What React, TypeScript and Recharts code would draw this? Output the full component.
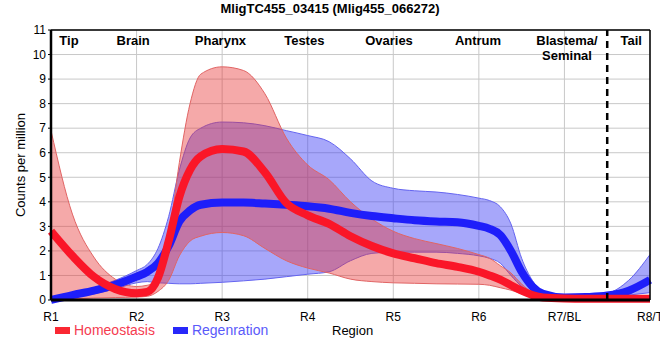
import React from 'react';
import {
  Area,
  CartesianGrid,
  ComposedChart,
  Line,
  ReferenceLine,
  XAxis,
  YAxis,
} from 'recharts';

const xs = [1, 1.25, 1.5, 1.75, 2, 2.125, 2.25, 2.375, 2.5, 2.625, 2.75, 3, 3.25, 3.5, 3.75, 4, 4.25, 4.5, 4.75, 5, 5.25, 5.5, 5.75, 6, 6.125, 6.25, 6.375, 6.5, 6.625, 6.75, 7, 7.25, 7.5, 7.75, 8];

const homeostasis = [2.8, 1.8, 0.95, 0.45, 0.28, 0.33, 0.9, 2.4, 4.2, 5.3, 5.85, 6.15, 6.05, 5.2, 3.95, 3.45, 3.1, 2.6, 2.2, 1.9, 1.7, 1.5, 1.35, 1.15, 1.0, 0.83, 0.6, 0.38, 0.2, 0.1, 0.06, 0.05, 0.05, 0.05, 0.05];
const homeostasisHigh = [6.9, 3.5, 1.75, 0.85, 0.55, 0.6, 0.85, 2.5, 5.6, 8.0, 9.2, 9.5, 9.35, 8.4, 6.6, 5.5, 4.9, 4.0, 3.3, 2.8, 2.5, 2.3, 2.1, 1.85, 1.7, 1.4, 1.1, 0.65, 0.3, 0.15, 0.1, 0.1, 0.1, 0.1, 0.1];
const homeostasisLow = [0, 0.05, 0.08, 0.1, 0.12, 0.15, 0.35, 0.8, 1.8, 2.4, 2.6, 2.75, 2.62, 2.1, 1.6, 1.3, 1.1, 0.85, 0.75, 0.7, 0.68, 0.66, 0.65, 0.64, 0.6, 0.5, 0.4, 0.25, 0.1, 0.02, 0, 0, 0, 0, 0];

const regeneration = [0, 0.2, 0.38, 0.62, 0.95, 1.15, 1.5, 2.2, 3.2, 3.65, 3.88, 3.97, 3.97, 3.93, 3.88, 3.82, 3.72, 3.55, 3.42, 3.33, 3.25, 3.2, 3.17, 3.02, 2.9, 2.65, 2.0, 1.15, 0.55, 0.25, 0.1, 0.12, 0.18, 0.38, 0.82];
const regenerationHigh = [0.05, 0.25, 0.5, 0.8, 1.2, 1.45, 2.1, 3.4, 5.3, 6.6, 7.0, 7.25, 7.22, 7.1, 6.9, 6.7, 6.45, 5.75, 4.85, 4.55, 4.45, 4.4, 4.3, 4.15, 4.05, 3.8, 3.1, 1.7, 0.8, 0.35, 0.15, 0.2, 0.28, 0.8, 1.85];
const regenerationLow = [0, 0.12, 0.25, 0.45, 0.7, 0.75, 0.7, 0.68, 0.66, 0.66, 0.68, 0.72, 0.78, 0.85, 0.95, 1.05, 1.15, 1.6, 1.9, 1.95, 1.95, 1.95, 1.9, 1.8, 1.7, 1.5, 1.0, 0.55, 0.25, 0.1, 0.05, 0.06, 0.1, 0.2, 0.3];

const tickValues = [1, 2, 3, 4, 5, 6, 7, 8];
const tickLabels = ['R1', 'R2', 'R3', 'R4', 'R5', 'R6', 'R7/BL', 'R8/T'];
const yTicks = [0, 1, 2, 3, 4, 5, 6, 7, 8, 9, 10, 11];

const regionNames = ['Tip', 'Brain', 'Pharynx', 'Testes', 'Ovaries', 'Antrum', 'Blastema/\nSeminal', 'Tail'];
const regionPos = [1.21, 1.96, 2.98, 3.96, 4.95, 5.99, 7.03, 7.78];

const data = xs.map((x, i) => ({
  x,
  homeo: homeostasis[i],
  homeoBand: [homeostasisLow[i], homeostasisHigh[i]],
  regen: regeneration[i],
  regenBand: [regenerationLow[i], regenerationHigh[i]],
}));

const font = '"Liberation Sans", Arial, sans-serif';

function regionLabel(name: string) {
  return (props: any) => {
    const vb = props.viewBox || {};
    const x = vb.x ?? 0;
    const top = vb.y ?? 30;
    const lines = name.split('\n');
    return (
      <text x={x} y={top + 15} textAnchor="middle" fontFamily={font} fontSize={13} fontWeight="bold" fill="#000">
        {lines.map((l, i) => (
          <tspan key={i} x={x} dy={i === 0 ? 0 : 15}>
            {l}
          </tspan>
        ))}
      </text>
    );
  };
}

export default function App() {
  return (
    <div style={{ position: 'absolute', left: 0, top: 0, width: 660, height: 360, fontFamily: font, background: '#fff' }}>
      <div style={{ position: 'absolute', top: 1, left: 0, width: 660, textAlign: 'center', fontSize: 13, fontWeight: 'bold' }}>
        MligTC455_03415 (Mlig455_066272)
      </div>
      <ComposedChart width={660} height={360} data={data} margin={{ top: 30, right: 10, bottom: 35, left: 0 }}>
        <CartesianGrid stroke="#c8c8c8" strokeWidth={1} />
        <XAxis
          dataKey="x"
          type="number"
          domain={[1, 8]}
          ticks={tickValues}
          tickFormatter={(v: number) => tickLabels[v - 1]}
          interval={0}
          height={25}
          axisLine={{ stroke: '#000', strokeWidth: 3 }}
          tickLine={false}
          tickMargin={6}
          tick={{ fill: '#000', fontSize: 12, fontFamily: font }}
        />
        <YAxis
          type="number"
          domain={[0, 11]}
          ticks={yTicks}
          interval={0}
          width={51}
          axisLine={{ stroke: '#000', strokeWidth: 2.5 }}
          tickLine={{ stroke: '#000' }}
          tickSize={3}
          tickMargin={2}
          tick={{ fill: '#000', fontSize: 12, fontFamily: font }}
        />
        <Area
          dataKey="regenBand"
          type="monotone"
          fill="rgb(60,60,245)"
          fillOpacity={0.45}
          stroke="rgb(100,100,240)"
          strokeWidth={1}
          isAnimationActive={false}
        />
        <Line
          dataKey="regen"
          type="monotone"
          stroke="rgb(30,30,250)"
          strokeWidth={8}
          dot={false}
          isAnimationActive={false}
        />
        <Area
          dataKey="homeoBand"
          type="monotone"
          fill="rgb(230,50,50)"
          fillOpacity={0.42}
          stroke="rgb(225,100,100)"
          strokeWidth={1}
          isAnimationActive={false}
        />
        <Line
          dataKey="homeo"
          type="monotone"
          stroke="rgb(250,22,40)"
          strokeWidth={8}
          dot={false}
          isAnimationActive={false}
        />
        <ReferenceLine y={11} stroke="#000" strokeWidth={1.5} />
        <ReferenceLine x={8} stroke="#000" strokeWidth={1.5} />
        <ReferenceLine x={7.5} stroke="#000" strokeWidth={2.5} strokeDasharray="7 5" />
        {regionNames.map((name, i) => (
          <ReferenceLine
            key={name}
            x={regionPos[i]}
            stroke="none"
            strokeOpacity={0}
            label={regionLabel(name)}
          />
        ))}
      </ComposedChart>
      <div
        style={{
          position: 'absolute',
          left: 20,
          top: 165,
          fontSize: 13,
          whiteSpace: 'nowrap',
          transform: 'translate(-50%, -50%) rotate(-90deg)',
        }}
      >
        Counts per million
      </div>
      <div style={{ position: 'absolute', left: 55, top: 322, display: 'flex', alignItems: 'center', fontSize: 14 }}>
        <span style={{ display: 'inline-block', width: 15, height: 7, background: 'rgb(250,40,50)', marginRight: 4 }} />
        <span style={{ color: 'rgb(245,60,80)' }}>Homeostasis</span>
        <span style={{ display: 'inline-block', width: 15, height: 7, background: 'rgb(40,40,250)', marginLeft: 18, marginRight: 4 }} />
        <span style={{ color: 'rgb(90,90,250)' }}>Regenration</span>
      </div>
      <div style={{ position: 'absolute', left: 332, top: 323, fontSize: 13 }}>Region</div>
    </div>
  );
}
